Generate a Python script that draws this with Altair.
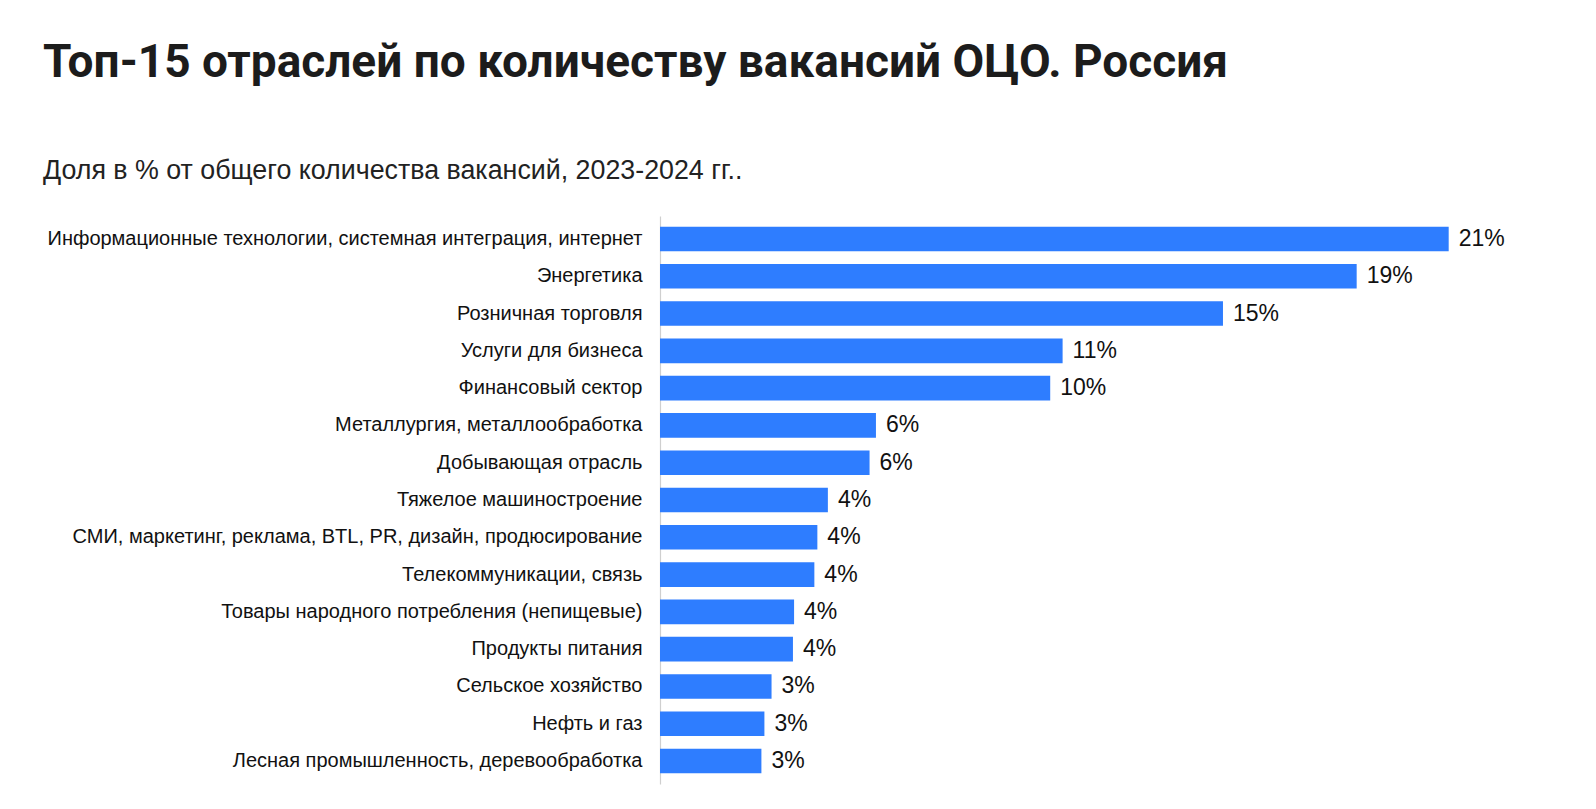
import altair as alt
import pandas as pd

categories = [
    "Информационные технологии, системная интеграция, интернет",
    "Энергетика",
    "Розничная торговля",
    "Услуги для бизнеса",
    "Финансовый сектор",
    "Металлургия, металлообработка",
    "Добывающая отрасль",
    "Тяжелое машиностроение",
    "СМИ, маркетинг, реклама, BTL, PR, дизайн, продюсирование",
    "Телекоммуникации, связь",
    "Товары народного потребления (непищевые)",
    "Продукты питания",
    "Сельское хозяйство",
    "Нефть и газ",
    "Лесная промышленность, деревообработка",
]
shares = [21.0, 18.55, 14.99, 10.72, 10.39, 5.75, 5.58, 4.47, 4.19, 4.11,
          3.57, 3.54, 2.97, 2.78, 2.70]
labels = ["21%", "19%", "15%", "11%", "10%", "6%", "6%", "4%", "4%", "4%",
          "4%", "4%", "3%", "3%", "3%"]

df = pd.DataFrame({"cat": categories, "share": shares, "label": labels})

LABEL_FONT = "Liberation Sans, Arial, sans-serif"

y_enc = alt.Y(
    "cat:N",
    sort=categories,
    title=None,
    scale=alt.Scale(paddingInner=0.34, paddingOuter=0.285),
    axis=alt.Axis(
        ticks=False,
        labelPadding=18,
        labelLimit=800,
        labelFont=LABEL_FONT,
        labelFontSize=20,
        labelColor="#111111",
        domainColor="#cfcfcf",
        domainWidth=1.2,
        grid=False,
    ),
)
x_enc = alt.X("share:Q", scale=alt.Scale(domain=[0, 22.1], nice=False), axis=None)

bars = alt.Chart(df).mark_bar(color="#2E7DFF").encode(y=y_enc, x=x_enc)
texts = alt.Chart(df).mark_text(
    align="left", baseline="middle", dx=10, font=LABEL_FONT, fontSize=23, color="#111111"
).encode(y=alt.Y("cat:N", sort=categories), x="share:Q", text="label:N")

chart = (
    alt.layer(bars, texts)
    .properties(
        width=830,
        height=568,
        autosize=alt.AutoSizeParams(type="none"),
        padding={"left": 652, "top": 208, "right": 20, "bottom": 10},
        title=alt.TitleParams(
            text="Топ-15 отраслей по количеству вакансий ОЦО. Россия",
            subtitle="Доля в % от общего количества вакансий, 2023-2024 гг..",
            anchor="start",
            frame="group",
            orient="top",
            dx=-617,
            font="Roboto, sans-serif",
            fontSize=46,
            fontWeight="bold",
            color="#1c1c1c",
            subtitleFont=LABEL_FONT,
            subtitleFontSize=26.8,
            subtitleColor="#222222",
            subtitlePadding=71,
            offset=30,
        ),
    )
    .configure_view(stroke=None)
)

chart.save("out.html", embed_options={"renderer": "svg", "actions": False})
